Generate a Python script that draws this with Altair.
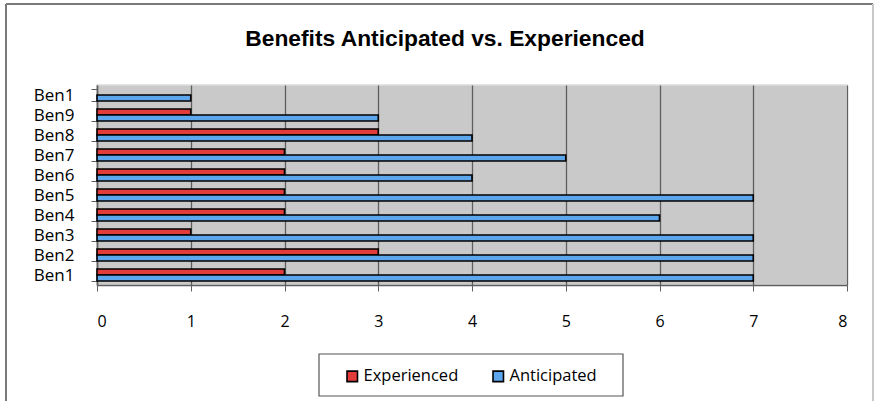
import json
import altair as alt
import pandas as pd

# ---- data (bottom to top) ----
categories = ["Ben1", "Ben2", "Ben3", "Ben4", "Ben5", "Ben6", "Ben7", "Ben8", "Ben9", "Ben10"]
tick_labels = ["Ben1", "Ben2", "Ben3", "Ben4", "Ben5", "Ben6", "Ben7", "Ben8", "Ben9", "Ben1"]
experienced = [2, 3, 1, 2, 2, 2, 2, 3, 1, None]
anticipated = [7, 7, 7, 6, 7, 4, 5, 4, 3, 1]
series = ["Experienced", "Anticipated"]
colors = ["#e23c3a", "#5ca6ee"]
x_ticks = [0, 1, 2, 3, 4, 5, 6, 7, 8]
title_text = "Benefits Anticipated vs. Experienced"

rows = []
for i, c in enumerate(categories):
    for s, vals in zip(series, [experienced, anticipated]):
        if vals[i] is not None:
            rows.append({"pos": i, "cat": c, "series": s, "value": vals[i]})
df = pd.DataFrame(rows)

W, H = 750, 200
PAD_L, PAD_T = 97, 85

label_expr = json.dumps(tick_labels) + "[datum.value]"

bars = alt.Chart(df).mark_bar(stroke="#000000", strokeWidth=1.6).encode(
    x=alt.X("value:Q", scale=alt.Scale(domain=[0, 8], nice=False),
            axis=alt.Axis(values=x_ticks, title=None, grid=True, gridColor="#5e5e5e",
                          gridWidth=1.3, domainColor="#5e5e5e", domainWidth=1.5,
                          tickColor="#5e5e5e", tickSize=6, labelPadding=22,
                          labelFont="Open Sans", labelFontSize=16, labelColor="#000000")),
    y=alt.Y("pos:O", sort="descending",
            scale=alt.Scale(paddingInner=0.4, paddingOuter=0.2),
            axis=alt.Axis(title=None, labelExpr=label_expr, tickBand="extent",
                          domainColor="#5e5e5e", domainWidth=1.5, tickColor="#5e5e5e",
                          tickSize=6, labelPadding=17, labelFont="Open Sans",
                          labelFontSize=17, labelColor="#000000")),
    yOffset=alt.YOffset("series:N", sort=series,
                        scale=alt.Scale(paddingInner=0, paddingOuter=0)),
    color=alt.Color("series:N", sort=series,
                    scale=alt.Scale(domain=series, range=colors),
                    legend=alt.Legend(title=None, orient="none", direction="horizontal",
                                      legendX=247, legendY=283, symbolType="square",
                                      symbolSize=110, symbolStrokeColor="#000000",
                                      symbolStrokeWidth=1.6, symbolOpacity=1,
                                      labelFont="Open Sans", labelFontSize=16.5,
                                      labelColor="#000000", labelOffset=3,
                                      columnPadding=30)),
)

one = pd.DataFrame({"a": [0]})
frame_dark = alt.Chart(one).mark_rule(color="#7a7a7a", strokeWidth=2)
frame_top = frame_dark.encode(x=alt.value(6 - PAD_L), x2=alt.value(873 - PAD_L), y=alt.value(4 - PAD_T))
frame_left = frame_dark.encode(x=alt.value(6 - PAD_L), y=alt.value(4 - PAD_T), y2=alt.value(420 - PAD_T))
frame_right = alt.Chart(one).mark_rule(color="#c8c8c8", strokeWidth=2).encode(
    x=alt.value(873 - PAD_L), y=alt.value(4 - PAD_T), y2=alt.value(420 - PAD_T))
legend_box = alt.Chart(one).mark_rect(fill="#ffffff", stroke="#555555", strokeWidth=1.2).encode(
    x=alt.value(319 - PAD_L), x2=alt.value(623 - PAD_L),
    y=alt.value(354 - PAD_T), y2=alt.value(396 - PAD_T))
title = alt.Chart(one).mark_text(text=title_text, font="Liberation Sans", fontSize=22.8,
                                 fontWeight="bold", color="#000000", align="center",
                                 baseline="alphabetic").encode(
    x=alt.value(445 - PAD_L), y=alt.value(46 - PAD_T))

chart = alt.layer(frame_top, frame_left, frame_right, legend_box, title, bars).properties(
    width=W, height=H,
    background="#ffffff",
    autosize=alt.AutoSizeParams(type="none"),
    padding={"left": PAD_L, "top": PAD_T, "right": 876 - PAD_L - W, "bottom": 401 - PAD_T - H},
).configure_view(fill="#c9c9c9", stroke="#dcdcdc", strokeWidth=1.5)

chart.save("out.html", embed_options={"renderer": "svg", "actions": False})
